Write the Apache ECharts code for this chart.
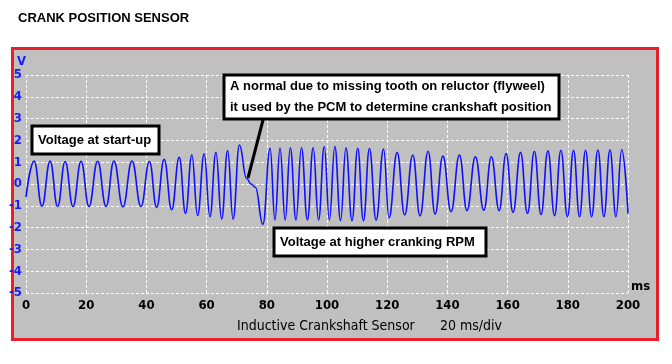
<!DOCTYPE html>
<html>
<head>
<meta charset="utf-8">
<script src="https://cdn.jsdelivr.net/npm/echarts@6/dist/echarts.min.js"></script>
<style>
html,body{margin:0;padding:0;background:#fff;}
#c{width:672px;height:364px;}
</style>
</head>
<body>
<div id="c"></div>
<script>
// Waveform turning points (time in ms, voltage in V)
const timeMs = [0, 2.7, 5.3, 8.0, 10.5, 13.0, 15.6, 18.3, 20.9, 23.8, 26.6, 29.2, 32.2, 35.2, 38.2,
  41.0, 43.4, 45.9, 48.4, 50.9, 53.0, 55.1, 57.0, 59.2, 61.1, 63.1, 65.0, 67.0, 68.8, 70.9,
  73.3, 74.8, 76.2, 78.7,
  81.1, 82.7, 84.4, 86.1, 87.8, 89.7, 91.5, 93.5, 95.4, 97.2, 99.1, 100.8, 102.6, 104.5, 106.3,
  108.3, 110.2, 112.1, 114.1, 116.3, 118.8, 120.6, 123.3, 125.8, 128.5, 130.9, 133.6, 135.9,
  138.5, 141.2, 144.0, 146.5, 149.3, 152.1, 154.6, 157.2, 159.5, 161.8, 164.3, 166.6, 168.9,
  171.1, 173.4, 175.6, 177.7, 179.9, 181.9, 183.9, 185.9, 187.9, 190.0, 192.0, 194.0, 196.0,
  197.9, 200];
const volts = [-0.6, 1.05, -1.02, 1.05, -1.03, 1.03, -1.03, 1.04, -1.03, 1.04, -1.03, 1.05, -1.05, 1.05, -1.03,
  1.03, -1.07, 1.13, -1.18, 1.22, -1.35, 1.33, -1.45, 1.38, -1.5, 1.45, -1.6, 1.53, -1.62, 1.79,
  0.25, 0.0, -0.15, -1.85,
  1.64, -1.65, 1.65, -1.65, 1.66, -1.65, 1.66, -1.65, 1.66, -1.65, 1.72, -1.65, 1.72, -1.68, 1.66,
  -1.68, 1.64, -1.68, 1.63, -1.66, 1.6, -1.55, 1.45, -1.42, 1.33, -1.47, 1.5, -1.38,
  1.28, -1.27, 1.33, -1.22, 1.25, -1.2, 1.25, -1.22, 1.4, -1.3, 1.45, -1.35, 1.5,
  -1.4, 1.52, -1.45, 1.55, -1.5, 1.55, -1.5, 1.55, -1.5, 1.56, -1.5, 1.57, -1.5,
  1.57, -1.35];
const xTicks = [0, 20, 40, 60, 80, 100, 120, 140, 160, 180, 200];
const yTicks = [-5, -4, -3, -2, -1, 0, 1, 2, 3, 4, 5];

const titleText = 'CRANK POSITION SENSOR';
const footerLeft = 'Inductive Crankshaft Sensor';
const footerRight = '20 ms/div';
const noteStart = 'Voltage at start-up';
const noteGap = ['A normal due to missing tooth on reluctor (flyweel)', 'it used by the PCM to determine crankshaft position'];
const noteHigh = 'Voltage at higher cranking RPM';

const seriesData = timeMs.map((t, i) => [t, volts[i]]);

const narrow = '"Liberation Sans Narrow", "Arial Narrow", "DejaVu Sans Condensed", sans-serif';
const sans = '"Liberation Sans", Arial, sans-serif';

const chart = echarts.init(document.getElementById('c'), null, {renderer: 'canvas'});

function box(x, y, w, h, lines, fs, lh) {
  const out = [{
    type: 'rect', z: 100, shape: {x: x, y: y, width: w, height: h},
    style: {fill: '#fff', stroke: '#000', lineWidth: 3}
  }];
  lines.forEach((t, i) => {
    out.push({
      type: 'text', z: 101, x: x + 6, y: y + h / 2 + (i - (lines.length - 1) / 2) * lh,
      style: {text: t, font: 'bold ' + fs + 'px ' + sans, fill: '#000', textVerticalAlign: 'middle', textAlign: 'left'}
    });
  });
  return out;
}

chart.setOption({
  animation: false,
  backgroundColor: '#fff',
  grid: {left: 26, right: 44, top: 75, bottom: 71, containLabel: false},
  xAxis: {
    type: 'value', min: xTicks[0], max: xTicks[xTicks.length - 1], interval: 20,
    name: 'ms', nameLocation: 'end', nameGap: 3,
    nameTextStyle: {color: '#000', fontFamily: narrow, fontWeight: 'bold', fontSize: 13, verticalAlign: 'bottom', align: 'left'},
    axisLine: {show: false, onZero: false}, axisTick: {show: false},
    axisLabel: {color: '#000', fontFamily: narrow, fontWeight: 'bold', fontSize: 13, margin: 6, showMinLabel: true, showMaxLabel: true},
    splitLine: {show: true, lineStyle: {color: '#ffffff', width: 1, type: [3, 2]}}
  },
  yAxis: {
    type: 'value', min: yTicks[0], max: yTicks[yTicks.length - 1], interval: 1,
    name: 'V', nameLocation: 'end', nameGap: 7,
    nameTextStyle: {color: '#1a1aff', fontFamily: narrow, fontWeight: 'bold', fontSize: 13, align: 'right', verticalAlign: 'bottom'},
    axisLine: {show: false, onZero: false}, axisTick: {show: false},
    axisLabel: {color: '#1a1aff', fontFamily: narrow, fontWeight: 'bold', fontSize: 13, margin: 4},
    splitLine: {show: true, lineStyle: {color: '#ffffff', width: 1, type: [3, 2]}}
  },
  series: [{
    type: 'line', data: seriesData, showSymbol: false, smooth: 0.45, smoothMonotone: 'x',
    lineStyle: {color: '#1010ff', width: 1.6}, z: 5
  }],
  graphic: [
    {type: 'rect', z: -10, shape: {x: 12.5, y: 48.5, width: 645, height: 291},
     style: {fill: '#c0c0c0', stroke: '#e8202a', lineWidth: 3}},
    {type: 'text', x: 18, y: 18, style: {text: titleText, font: 'bold 13px ' + sans, fill: '#000', textVerticalAlign: 'middle'}},
    {type: 'text', x: 237, y: 326, z: 50, style: {text: footerLeft, font: '14px ' + narrow, fill: '#000', textVerticalAlign: 'middle'}},
    {type: 'text', x: 440, y: 326, z: 50, style: {text: footerRight, font: '14px ' + narrow, fill: '#000', textVerticalAlign: 'middle'}},
    {type: 'line', z: 90, shape: {x1: 263, y1: 120, x2: 248, y2: 178}, style: {stroke: '#000', lineWidth: 3}}
  ].concat(
    box(32, 126, 127, 28, [noteStart], 13, 0),
    box(224, 75, 335, 44, noteGap, 13, 21.5),
    box(274, 228, 212, 28, [noteHigh], 13, 0)
  )
});
</script>
</body>
</html>
